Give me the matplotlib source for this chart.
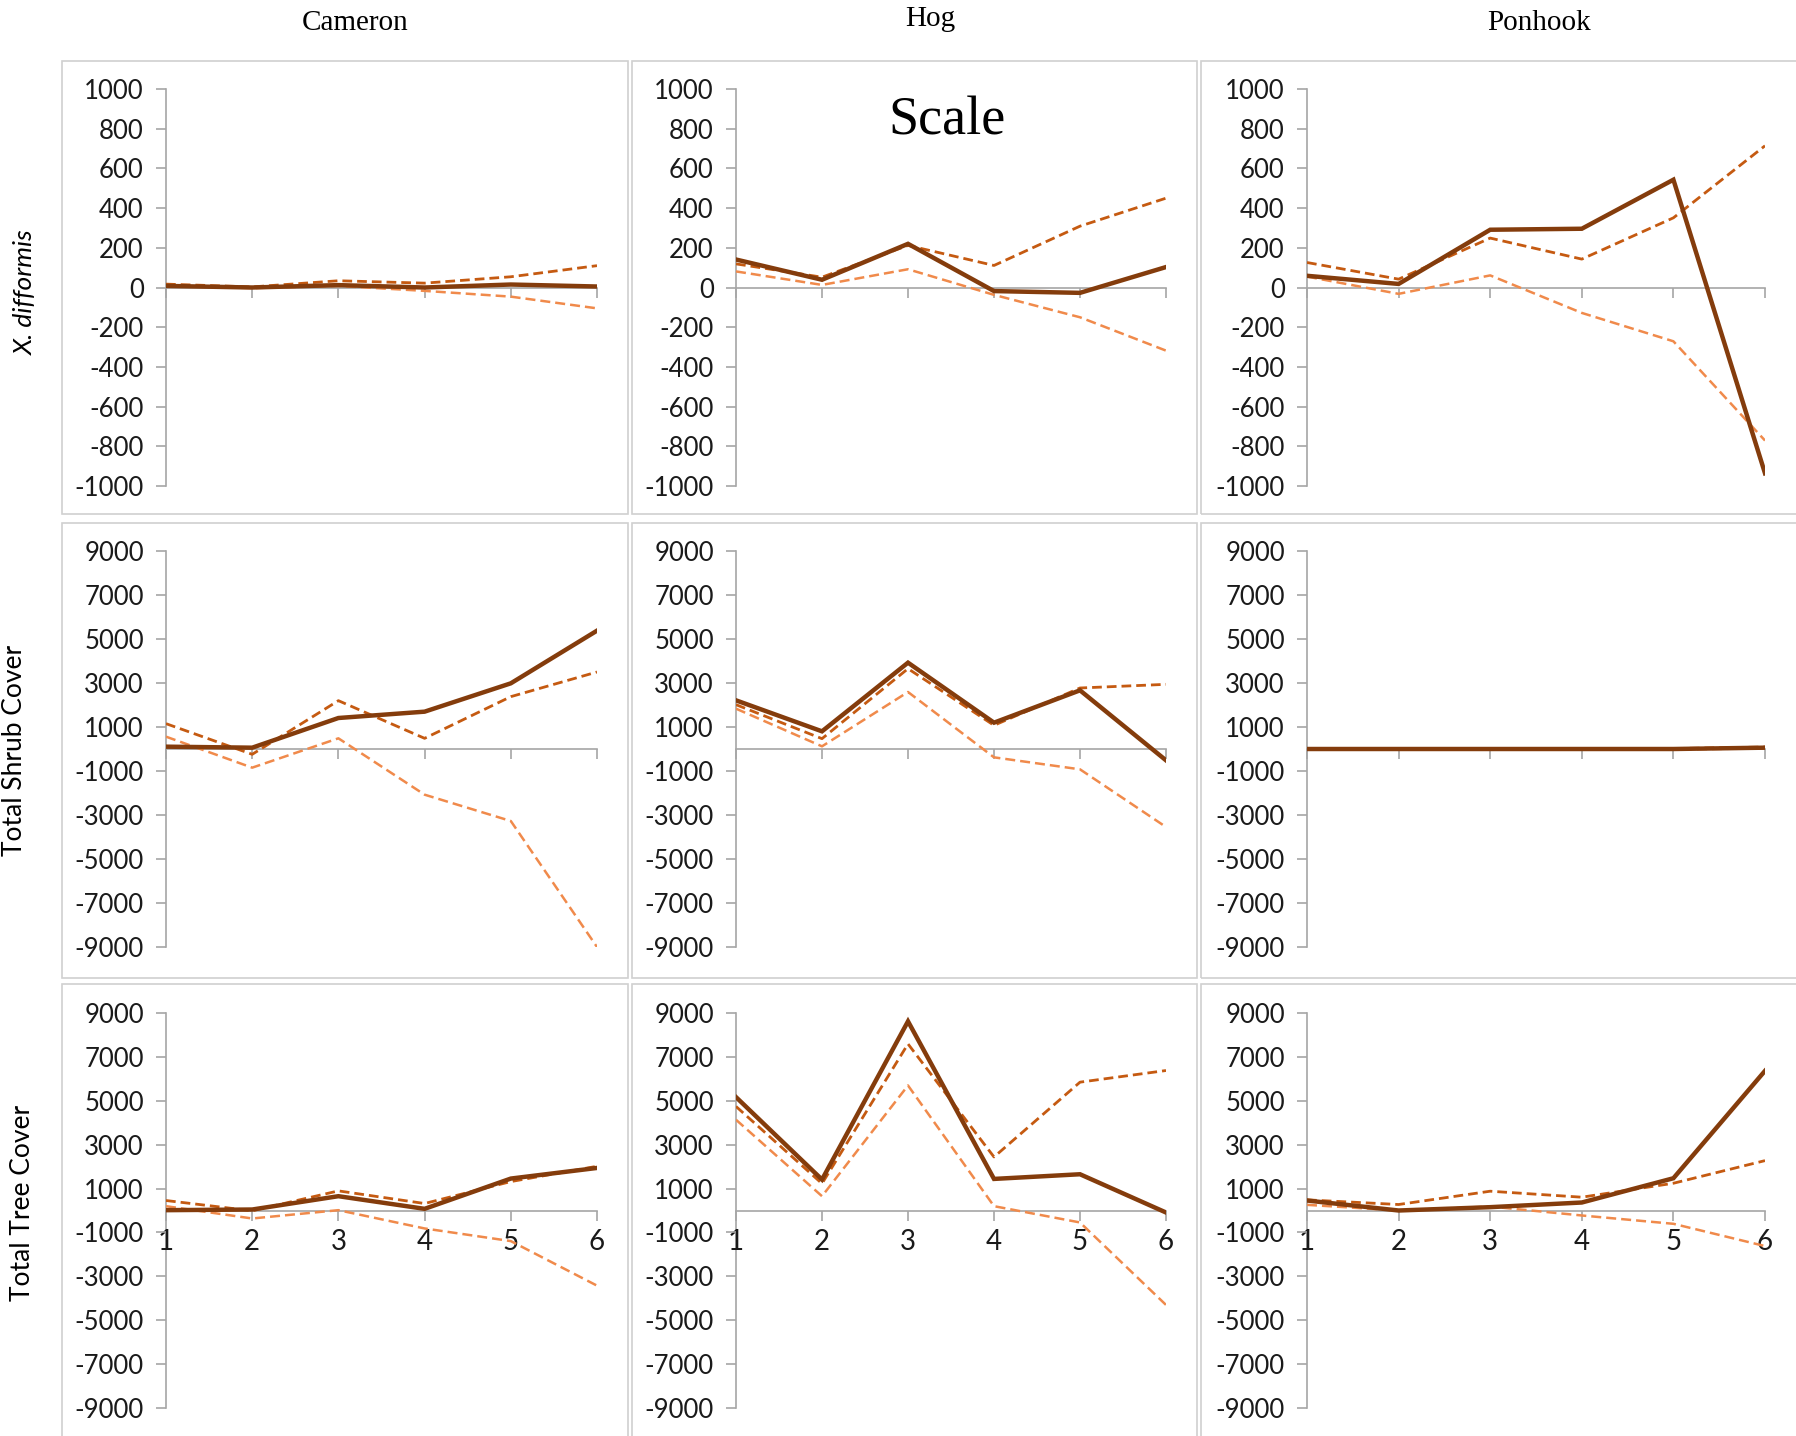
import numpy as np
import matplotlib
matplotlib.use("Agg")
import matplotlib.pyplot as plt
from matplotlib.patches import Rectangle

plt.rcParams["axes.unicode_minus"] = False

# sampling occasions on the x axis
x = [1, 2, 3, 4, 5, 6]

sites = ["Cameron", "Hog", "Ponhook"]
rows = ["X. difformis", "Total Shrub Cover", "Total Tree Cover"]

# X. difformis (observed change, upper bound, lower bound)
xd_cameron_obs = [8, 0, 12, 0, 15, 5]
xd_cameron_hi = [17, 3, 34, 22, 54, 110]
xd_cameron_lo = [8, -3, 8, -17, -46, -105]
xd_hog_obs = [141, 39, 220, -18, -27, 103]
xd_hog_hi = [119, 52, 212, 111, 309, 450]
xd_hog_lo = [81, 13, 92, -37, -150, -318]
xd_ponhook_obs = [59, 18, 291, 296, 543, -936]
xd_ponhook_hi = [126, 42, 249, 143, 351, 714]
xd_ponhook_lo = [55, -32, 61, -128, -271, -771]

# Total shrub cover
sh_cameron_obs = [106, 60, 1409, 1697, 2985, 5379]
sh_cameron_hi = [1152, -242, 2197, 485, 2379, 3500]
sh_cameron_lo = [561, -848, 485, -2076, -3273, -9000]
sh_hog_obs = [2212, 803, 3924, 1197, 2667, -515]
sh_hog_hi = [2015, 470, 3652, 1076, 2773, 2939]
sh_hog_lo = [1833, 121, 2591, -379, -924, -3545]
sh_ponhook_obs = [0, 0, 0, 0, 0, 60]
sh_ponhook_hi = [10, 10, 10, 10, 20, 90]
sh_ponhook_lo = [-10, -10, -10, -10, -20, 30]

# Total tree cover
tr_cameron_obs = [15, 45, 652, 76, 1455, 1939]
tr_cameron_hi = [455, -15, 894, 318, 1318, 2015]
tr_cameron_lo = [197, -364, 15, -818, -1394, -3424]
tr_hog_obs = [5167, 1409, 8621, 1439, 1652, -91]
tr_hog_hi = [4742, 1227, 7591, 2439, 5848, 6379]
tr_hog_lo = [4136, 652, 5697, 197, -545, -4303]
tr_ponhook_obs = [455, 0, 152, 364, 1470, 6364]
tr_ponhook_hi = [485, 273, 879, 606, 1242, 2273]
tr_ponhook_lo = [258, 0, 182, -227, -606, -1621]

data = [
    [(xd_cameron_obs, xd_cameron_hi, xd_cameron_lo),
     (xd_hog_obs, xd_hog_hi, xd_hog_lo),
     (xd_ponhook_obs, xd_ponhook_hi, xd_ponhook_lo)],
    [(sh_cameron_obs, sh_cameron_hi, sh_cameron_lo),
     (sh_hog_obs, sh_hog_hi, sh_hog_lo),
     (sh_ponhook_obs, sh_ponhook_hi, sh_ponhook_lo)],
    [(tr_cameron_obs, tr_cameron_hi, tr_cameron_lo),
     (tr_hog_obs, tr_hog_hi, tr_hog_lo),
     (tr_ponhook_obs, tr_ponhook_hi, tr_ponhook_lo)],
]

yticks = [np.arange(-1000, 1001, 200), np.arange(-9000, 9001, 2000), np.arange(-9000, 9001, 2000)]
ylims = [(-1000, 1000), (-9000, 9000), (-9000, 9000)]

W, H = 1796, 1436
fig = plt.figure(figsize=(W / 100, H / 100), dpi=100)
fig.patch.set_facecolor("white")

def fx(px):
    return px / W

def fy(py):
    return 1 - py / H

# panel frames (pixel coords)
frame_x = [(62, 628), (632, 1197), (1201, 1800)]
frame_y = [(61, 514), (523, 978), (984, 1440)]
# plot areas
ax_x = [(166, 597), (736, 1166), (1307, 1765)]
ax_y = [(89, 486), (551, 947), (1013, 1408)]

c_obs = "#843C0C"
c_hi = "#C55A11"
c_lo = "#F08A4B"
grey = "#A6A6A6"
tick_font = "Lato"

for r in range(3):
    for c in range(3):
        x0, x1 = frame_x[c]
        y0, y1 = frame_y[r]
        fig.patches.append(Rectangle((fx(x0), fy(y1)), fx(x1 - x0), (y1 - y0) / H,
                                     transform=fig.transFigure, fill=False,
                                     edgecolor="#D0D0D0", linewidth=1.2))
        a0, a1 = ax_x[c]
        b0, b1 = ax_y[r]
        ax = fig.add_axes([fx(a0), fy(b1), fx(a1 - a0), (b1 - b0) / H])
        obs, hi, lo = data[r][c]
        ax.plot(x, hi, color=c_hi, lw=2.0, ls=(0, (3.5, 1.8)), zorder=3)
        ax.plot(x, lo, color=c_lo, lw=1.8, ls=(0, (4, 2)), zorder=3)
        ax.plot(x, obs, color=c_obs, lw=3.2, zorder=4, solid_joinstyle="miter")
        ax.set_xlim(1, 6)
        ax.set_ylim(*ylims[r])
        ax.set_yticks(yticks[r])
        ax.set_xticks(x)
        ax.patch.set_alpha(0)
        for s in ["top", "right"]:
            ax.spines[s].set_visible(False)
        ax.spines["left"].set_color(grey)
        ax.spines["left"].set_linewidth(1.2)
        ax.spines["bottom"].set_color(grey)
        ax.spines["bottom"].set_linewidth(1.2)
        ax.spines["bottom"].set_position(("data", 0))
        ax.spines["left"].set_zorder(1)
        ax.spines["bottom"].set_zorder(1)
        ax.tick_params(axis="both", direction="out", length=7, width=1.2, color=grey)
        ax.tick_params(axis="y", labelsize=18.5, labelcolor="#1a1a1a", pad=9)
        ax.tick_params(axis="x", labelsize=20, labelcolor="#1a1a1a", pad=6)
        for lab in ax.get_yticklabels() + ax.get_xticklabels():
            lab.set_fontfamily(tick_font)
        if r < 2:
            ax.set_xticklabels([])

# column titles
title_pos = [(355, 23), (930, 19), (1539, 23)]
for name, (px, py) in zip(sites, title_pos):
    fig.text(fx(px), fy(py), name, ha="center", va="center",
             fontsize=21, family="Liberation Serif")

# row labels
row_pos = [(25, 292), (15, 750), (23, 1203)]
for i, (lab, (px, py)) in enumerate(zip(rows, row_pos)):
    fig.text(fx(px), fy(py), lab, ha="center", va="center", rotation=90,
             fontsize=19, family=tick_font, style="italic" if i == 0 else "normal")

fig.text(fx(947), fy(121), "Scale", ha="center", va="center",
         fontsize=39, family="Liberation Serif")

fig.savefig("out.png", dpi=100)
